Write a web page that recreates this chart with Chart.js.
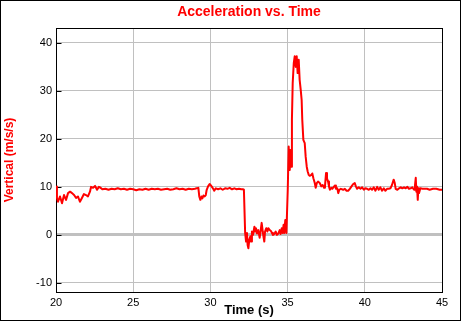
<!DOCTYPE html>
<html>
<head>
<meta charset="utf-8">
<title>Acceleration vs. Time</title>
<script src="https://cdn.jsdelivr.net/npm/chart.js@4.4.0/dist/chart.umd.min.js"></script>
<style>
  html, body { margin: 0; padding: 0; background: #fff; }
  canvas { display: block; }
</style>
</head>
<body>
<canvas id="accelChart" width="461" height="321"></canvas>
<script>
// time (s) and vertical acceleration (m/s/s)
const times = [
  20.00, 20.06, 20.13, 20.26, 20.39, 20.52, 20.65, 20.78, 20.91, 21.04,
  21.17, 21.30, 21.42, 21.55, 21.68, 21.81, 21.94, 22.07, 22.20, 22.27,
  22.40, 22.53, 22.66, 22.78, 22.85, 23.0, 23.2, 23.4, 23.6, 23.8,
  24.0, 24.2, 24.4, 24.6, 24.8, 25.0, 25.2, 25.4, 25.6, 25.8,
  26.0, 26.2, 26.4, 26.6, 26.8, 27.0, 27.2, 27.4, 27.6, 27.8,
  28.0, 28.2, 28.4, 28.6, 28.8, 29.0, 29.11, 29.22, 29.28, 29.35,
  29.42, 29.48, 29.55, 29.63, 29.70, 29.76, 29.85, 29.95, 30.03, 30.10,
  30.18, 30.25, 30.35, 30.50, 30.65, 30.80, 30.95, 31.10, 31.25, 31.40,
  31.55, 31.70, 31.85, 32.00, 32.10, 32.17, 32.25, 32.31, 32.37, 32.41,
  32.46, 32.52, 32.59, 32.63, 32.69, 32.76, 32.85, 32.89, 32.95, 33.02,
  33.10, 33.19, 33.26, 33.32, 33.39, 33.45, 33.49, 33.54, 33.62, 33.69,
  33.75, 33.84, 33.92, 33.99, 34.05, 34.14, 34.23, 34.31, 34.40, 34.49,
  34.55, 34.62, 34.68, 34.74, 34.78, 34.85, 34.92, 35.01, 35.07, 35.14,
  35.18, 35.24, 35.28, 35.33, 35.40, 35.46, 35.53, 35.59, 35.65, 35.72,
  35.78, 35.85, 35.91, 35.95, 36.02, 36.11, 36.17, 36.24, 36.30, 36.37,
  36.43, 36.54, 36.60, 36.67, 36.76, 36.82, 36.89, 36.97, 37.08, 37.18,
  37.27, 37.36, 37.42, 37.49, 37.55, 37.62, 37.68, 37.74, 37.83, 37.90,
  37.96, 38.07, 38.13, 38.22, 38.28, 38.35, 38.45, 38.60, 38.71, 38.82,
  38.92, 39.03, 39.14, 39.25, 39.35, 39.42, 39.50, 39.61, 39.72, 39.83,
  39.94, 40.04, 40.15, 40.26, 40.37, 40.47, 40.58, 40.69, 40.80, 40.90,
  41.01, 41.12, 41.23, 41.33, 41.44, 41.55, 41.66, 41.76, 41.87, 41.94,
  42.00, 42.11, 42.22, 42.33, 42.43, 42.54, 42.65, 42.76, 42.86, 42.97,
  43.08, 43.19, 43.25, 43.30, 43.34, 43.38, 43.43, 43.47, 43.51, 43.60,
  43.73, 43.88, 44.03, 44.20, 44.42, 44.63, 44.85, 45.00
];
const accel = [
  10.1, 7.7, 6.9, 8.0, 6.6, 8.3, 7.3, 8.7, 9.0, 8.7,
  8.3, 7.7, 8.0, 6.9, 7.7, 8.5, 8.3, 8.0, 9.0, 10.0,
  9.8, 10.2, 9.4, 10.0, 9.9, 9.5, 9.6, 9.4, 9.6, 9.5,
  9.7, 9.5, 9.6, 9.4, 9.6, 9.5, 9.3, 9.5, 9.4, 9.6,
  9.4, 9.6, 9.5, 9.6, 9.4, 9.5, 9.6, 9.4, 9.5, 9.7,
  9.5, 9.6, 9.4, 9.6, 9.5, 9.6, 9.7, 9.8, 8.0, 7.3,
  8.0, 7.6, 8.2, 8.0, 8.3, 9.4, 10.1, 10.6, 10.3, 10.0,
  9.6, 9.2, 9.7, 9.5, 9.7, 9.4, 9.7, 9.6, 9.8, 9.5,
  9.7, 9.5, 9.6, 9.5, 9.5, 9.4, 0.4, -1.4, 0.4, -2.1,
  -2.8, -1.0, -0.3, -1.4, 0.7, 0.0, 1.7, 0.7, 1.4, 0.3,
  1.0, -0.6, 1.0, 2.5, 0.7, -0.6, -1.4, 0.7, 1.4, 0.7,
  1.4, 1.0, 0.8, 0.4, 0.0, 0.2, 0.7, 0.0, 0.3, 1.0,
  0.2, 1.4, 0.4, 2.1, 0.4, 3.1, 0.4, 9.4, 18.4, 13.5,
  17.7, 14.2, 24.0, 31.6, 35.8, 37.2, 35.0, 37.2, 33.7, 36.5,
  32.3, 30.2, 28.1, 24.0, 19.8, 19.1, 16.3, 14.2, 13.2, 12.5,
  12.3, 12.5, 12.8, 11.8, 10.8, 9.8, 10.8, 11.1, 10.8, 10.1,
  10.4, 9.8, 10.1, 12.9, 11.8, 11.1, 10.1, 9.4, 9.8, 9.6,
  9.9, 10.3, 9.6, 9.7, 8.7, 9.4, 9.6, 9.4, 9.6, 9.2,
  9.2, 9.6, 10.1, 10.6, 10.8, 10.1, 9.6, 9.9, 9.6, 9.9,
  9.4, 9.7, 9.6, 9.4, 9.7, 9.4, 9.9, 9.2, 10.0, 9.4,
  9.9, 9.2, 9.7, 9.2, 9.6, 9.6, 9.7, 10.4, 11.5, 10.8,
  9.6, 9.4, 9.7, 9.9, 9.7, 9.9, 9.7, 10.0, 9.6, 9.7,
  9.9, 9.4, 10.3, 11.9, 9.0, 10.1, 7.3, 9.7, 8.7, 9.7,
  9.6, 9.6, 9.6, 9.4, 9.6, 9.6, 9.4, 9.4
];
const xTicks = [20, 25, 30, 35, 40, 45];
const yTicks = [-10, 0, 10, 20, 30, 40];

const RED = '#ff0000';
const GRID = '#c0c0c0';
const FONT = 'Liberation Sans, Arial, sans-serif';

// black frame round the plot, short inner ticks on the left axis, outer border
const framePlugin = {
  id: 'frame',
  beforeDatasetsDraw(chart) {
    const { ctx, chartArea: a, scales: { y } } = chart;
    const l = Math.round(a.left) + 0.5, t = Math.round(a.top) + 0.5;
    const r = Math.round(a.right) + 0.5, b = Math.round(a.bottom) + 0.5;
    ctx.save();
    ctx.strokeStyle = '#000';
    ctx.lineWidth = 1;
    ctx.beginPath();
    y.ticks.forEach(tk => {
      const py = Math.round(y.getPixelForValue(tk.value)) + 0.5;
      ctx.moveTo(l, py);
      ctx.lineTo(l + 5, py);
    });
    ctx.stroke();
    ctx.strokeRect(l, t, r - l, b - t);
    ctx.restore();
  },
  afterDraw(chart) {
    const { ctx } = chart;
    ctx.save();
    ctx.strokeStyle = '#000';
    ctx.lineWidth = 1;
    ctx.strokeRect(0.5, 0.5, chart.width - 1, chart.height - 1);
    ctx.restore();
  }
};

new Chart(document.getElementById('accelChart'), {
  type: 'line',
  data: {
    datasets: [{
      label: 'Vertical',
      data: times.map((t, i) => ({ x: t, y: accel[i] })),
      borderColor: RED,
      borderWidth: 2,
      borderJoinStyle: 'round',
      pointRadius: 0,
      tension: 0,
      fill: false
    }]
  },
  options: {
    responsive: false,
    animation: false,
    events: [],
    layout: {
      padding: { top: 0, right: 19, bottom: 0, left: 0 }
    },
    plugins: {
      legend: { display: false },
      tooltip: { enabled: false },
      title: {
        display: true,
        fullSize: false,
        text: 'Acceleration vs. Time',
        color: RED,
        font: { family: FONT, size: 14, weight: 'bold' },
        padding: { top: 4, bottom: 7.2 }
      }
    },
    scales: {
      x: {
        type: 'linear',
        min: 20,
        max: 45,
        afterFit: s => { s.height = 29; },
        afterBuildTicks: s => { s.ticks = xTicks.map(v => ({ value: v })); },
        border: { display: false },
        grid: { color: GRID, lineWidth: 1, drawTicks: false },
        ticks: {
          color: '#000',
          padding: 4,
          maxRotation: 0,
          font: { family: FONT, size: 11 }
        },
        title: {
          display: true,
          text: 'Time (s)',
          color: '#000',
          font: { family: FONT, size: 13, weight: 'bold' },
          padding: { top: 0, bottom: 3 }
        }
      },
      y: {
        type: 'linear',
        min: -11.9,
        max: 43.1,
        afterFit: s => { s.width = 56; },
        afterBuildTicks: s => { s.ticks = yTicks.map(v => ({ value: v })); },
        border: { display: false },
        grid: {
          color: GRID,
          lineWidth: c => (c.tick && c.tick.value === 0 ? 3 : 1),
          drawTicks: false
        },
        ticks: {
          color: '#000',
          padding: 4,
          font: { family: FONT, size: 11 }
        },
        title: {
          display: true,
          text: 'Vertical (m/s/s)',
          color: RED,
          font: { family: FONT, size: 12, weight: 'bold' },
          padding: { top: 2, bottom: 0 }
        }
      }
    }
  },
  plugins: [framePlugin]
});
</script>
</body>
</html>
